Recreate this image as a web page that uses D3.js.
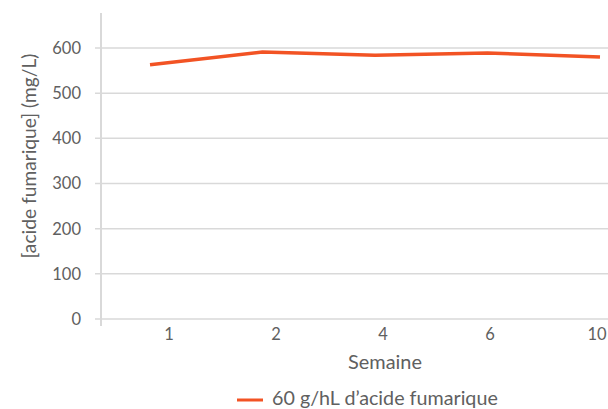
<!DOCTYPE html>
<html><head><meta charset="utf-8">
<script src="https://cdn.jsdelivr.net/npm/d3@7"></script>
<style>body{margin:0;background:#fff}svg{display:block}text{font-family:Lato,"Open Sans",sans-serif;font-weight:400;fill:#606060}</style>
</head><body><svg id="c" width="608" height="409"></svg>
<script>
const weeks = ["1","2","4","6","10"];
const values = [563, 591, 584, 589, 580];
const yTicks = [0,100,200,300,400,500,600];
const seriesName = "60 g/hL d\u2019acide fumarique";
const xTitle = "Semaine";
const yTitle = "[acide fumarique] (mg/L)";

const svg = d3.select("#c");
const y = d3.scaleLinear().domain([0,600]).range([319,48]);
const xLine = d3.scalePoint().domain(weeks).range([150,600]);
const xLab = d3.scalePoint().domain(weeks).range([169,597]);
const grid = "#d9d9d9";

function fit(sel, w){
  const n = sel.node(); const fs = parseFloat(sel.attr("font-size"));
  const L = n.getComputedTextLength(); if (L>0) sel.attr("font-size", fs*w/L);
}

svg.append("g").selectAll("line").data(yTicks).join("line")
  .attr("x1",95).attr("x2",608).attr("y1",d=>y(d)).attr("y2",d=>y(d))
  .attr("stroke",grid).attr("stroke-width",1.5);
svg.append("line").attr("x1",101).attr("x2",101).attr("y1",13).attr("y2",326)
  .attr("stroke",grid).attr("stroke-width",2);

const tickFs = 16.5;
svg.append("g").selectAll("text").data(yTicks).join("text")
  .attr("x",81).attr("y",d=>y(d)).attr("dy","0.36em").attr("text-anchor","end")
  .attr("font-size",tickFs).text(d=>d);
svg.append("g").selectAll("text").data(weeks).join("text")
  .attr("x",d=>xLab(d)).attr("y",334).attr("dy","0.36em").attr("text-anchor","middle")
  .attr("font-size",tickFs).text(d=>d);

const xt = svg.append("text").attr("x",385).attr("y",369).attr("text-anchor","middle").attr("font-size",17).text(xTitle);
fit(xt,74);
const yt = svg.append("text").attr("transform","translate(36,156) rotate(-90)").attr("text-anchor","middle")
  .attr("font-size",17).text(yTitle);
fit(yt,205);

const color = "#f25324";
svg.append("path").datum(values.map((v,i)=>[weeks[i],v]))
  .attr("fill","none").attr("stroke",color).attr("stroke-width",3.5).attr("stroke-linejoin","round")
  .attr("d", d3.line().x(d=>xLine(d[0])).y(d=>y(d[1])));

svg.append("line").attr("x1",237).attr("x2",263).attr("y1",400).attr("y2",400).attr("stroke",color).attr("stroke-width",3);
const lt = svg.append("text").attr("x",272).attr("y",404.5).attr("font-size",17).text(seriesName);
fit(lt,226);
</script></body></html>
